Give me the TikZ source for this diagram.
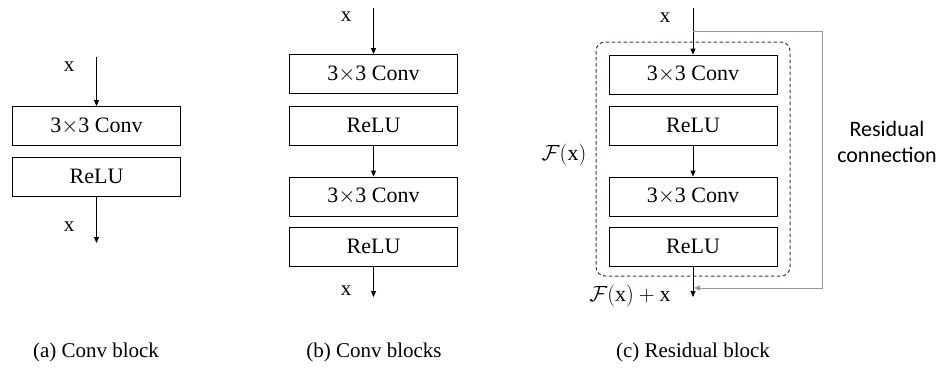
\documentclass[tikz,border=0pt]{standalone}
\usepackage{fix-cm}
\usepackage{fontspec}
\setmainfont{Liberation Serif}
\newfontfamily\calib{Carlito}
\usetikzlibrary{arrows.meta}
\definecolor{myDashBlue}{RGB}{38, 58, 98}
\definecolor{myResGray}{RGB}{150, 150, 150}
\tikzset{
  blk/.style={draw, minimum width=168pt, minimum height=39pt, inner sep=0pt,
    line width=0.8pt, font=\fontsize{22}{26}\selectfont},
  lbl/.style={font=\fontsize{21}{25}\selectfont, inner sep=0pt},
  mlbl/.style={font=\fontsize{22}{26}\selectfont, inner sep=0pt},
  subcap/.style={font=\fontsize{21}{25}\selectfont, inner sep=0pt},
  tip/.style={-{Triangle[length=6pt,width=5pt]}, line width=0.8pt}
}
\begin{document}
\begin{tikzpicture}[x=1pt, y=-1pt]
			\useasboundingbox (0,0) rectangle (938,372);
			% (a) conv block
			\draw (96.5,126) node[blk] (A1) {3$\times$3 Conv};
			\draw (96.5,176.5) node[blk] (A2) {ReLU};
			\coordinate (ain) at (96.5,57);
			\coordinate (aout) at (96.5,243);
			\node[lbl] (ax1) at (69,67) {x};
			\node[lbl] (ax2) at (69,227) {x};
			\node[subcap] (capa) at (96,352) {(a) Conv block};
	
			% (b) conv blocks
			\draw (373.5,74) node[blk] (B1) {3$\times$3 Conv};
			\draw (373.5,125.5) node[blk] (B2) {ReLU};
			\draw (373.5,196.5) node[blk] (B3) {3$\times$3 Conv};
			\draw (373.5,246.5) node[blk] (B4) {ReLU};
			\coordinate (bin) at (373.5,8);
			\coordinate (bout) at (373.5,297);
			\node[lbl] (bx1) at (346,17) {x};
			\node[lbl] (bx2) at (346,291) {x};
			\node[subcap] (capb) at (374,352) {(b) Conv blocks};
	
			% (c) residual block
			\draw (693,74.5) node[blk] (C1) {3$\times$3 Conv};
			\draw (693,125.5) node[blk] (C2) {ReLU};
			\draw (693,196.5) node[blk] (C3) {3$\times$3 Conv};
			\draw (693,246.5) node[blk] (C4) {ReLU};
			\draw[myDashBlue, dashed, dash pattern=on 3.5pt off 2.5pt, rounded corners=9pt, line width=1pt]
				(596,42) rectangle (790,276);
			\coordinate (cin) at (693,8);
			\coordinate (csplit) at (693,31);
			\coordinate (cjoin) at (693,288);
			\coordinate (cout) at (693,297);
			\coordinate (rtop) at (822,31);
			\coordinate (rbot) at (822,288);
			\node[lbl] (cx1) at (665,18) {x};
			\node[mlbl] (fx) at (564,155) {$\mathcal{F}(\mathrm{x})$};
			\node[mlbl] (fxx) at (630,296) {$\mathcal{F}(\mathrm{x})+\mathrm{x}$};
			\node[font=\calib\fontsize{22}{26}\selectfont, align=center, inner sep=0pt] (res) at (887,142) {Residual\\connection};
			\node[subcap] (capc) at (693,352) {(c) Residual block};
	
			\path[tip]
			(ain) edge (A1.north)
			(A2.south) edge (aout)
			(bin) edge (B1.north)
			(B2.south) edge (B3.north)
			(B4.south) edge (bout)
			(cin) edge (C1.north)
			(C2.south) edge (C3.north)
			(C4.south) edge (cout)
			;
			\draw[myResGray, line width=0.8pt, -{Triangle[length=6pt,width=5pt]}]
				(csplit) -- (rtop) -- (rbot) -- ([xshift=1pt]cjoin);
		\end{tikzpicture}
\end{document}
